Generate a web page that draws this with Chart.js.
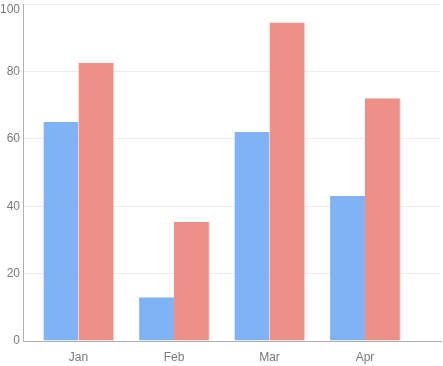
<!DOCTYPE html>
<html>
<head>
<meta charset="utf-8">
<script src="https://cdn.jsdelivr.net/npm/chart.js@4"></script>
<style>
   html, body { margin: 0; padding: 0; background: #fff; }
   #wrap { width: 443px; height: 366px; }
</style>
</head>
<body>
<div id="wrap"><canvas id="chart"></canvas></div>
<script>
const MONTHS = ["Jan", "Feb", "Mar", "Apr"];
const SERIES_A = [65, 13, 62, 43];
const SERIES_B = [82.5, 35.3, 94.5, 72];
const Y_TICKS = [0, 20, 40, 60, 80, 100];

const BLUE = "#7fb3f5";
const RED = "#ee9088";

const ctx = document.getElementById("chart").getContext("2d");

new Chart(ctx, {
   type: "bar",
   data: {
      labels: MONTHS,
      datasets: [
         {
            label: "A",
            data: SERIES_A,
            backgroundColor: BLUE,
            borderColor: "rgba(255, 255, 255, 0.5)",
            borderWidth: { left: 1, right: 0, top: 0, bottom: 0 },
            borderSkipped: "bottom",
         },
         {
            label: "B",
            data: SERIES_B,
            backgroundColor: RED,
            borderColor: "rgba(255, 200, 200, 0.8)",
            borderWidth: { left: 0, right: 1, top: 0, bottom: 0 },
            borderSkipped: "bottom",
         },
      ],
   },
   options: {
      responsive: true,
      maintainAspectRatio: false,
      animation: false,
      layout: { padding: { top: 4, right: 2, left: 0, bottom: 0 } },
      datasets: {
         bar: { categoryPercentage: 0.75, barPercentage: 1 },
      },
      plugins: {
         legend: { display: false },
         tooltip: { enabled: false },
      },
      scales: {
         x: {
            grid: { display: false, drawTicks: false },
            border: { display: true, color: "#b0b0b0", width: 1 },
            ticks: {
               color: "#7a7a7a",
               padding: 9,
               font: { family: "Liberation Sans, Arial, sans-serif", size: 12 },
            },
            afterFit: (scale) => {
               scale.height = 25;
               scale.paddingLeft = 0;
               scale.paddingRight = 0;
            },
            afterBuildTicks: (scale) => {
               // categories sit a bit right of the axis, with spare room on the right
               scale._startValue = -0.581;
               scale._valueRange = 4.377;
            },
         },
         y: {
            min: 0,
            max: 100,
            afterBuildTicks: (scale) => {
               scale.ticks = Y_TICKS.map((v) => ({ value: v }));
            },
            grid: { color: "#ececec", drawTicks: false },
            border: { display: true, color: "#b0b0b0", width: 1 },
            ticks: {
               color: "#7a7a7a",
               padding: 3,
               font: { family: "Liberation Sans, Arial, sans-serif", size: 12, lineHeight: 0.95 },
               // top label is pushed down so it stays inside the canvas
               callback: (v) => (v === 100 ? ["", String(v)] : String(v)),
            },
            afterFit: (scale) => {
               scale.width = 23;
               scale.paddingTop = 0;
               scale.paddingBottom = 0;
            },
         },
      },
   },
});
</script>
</body>
</html>
